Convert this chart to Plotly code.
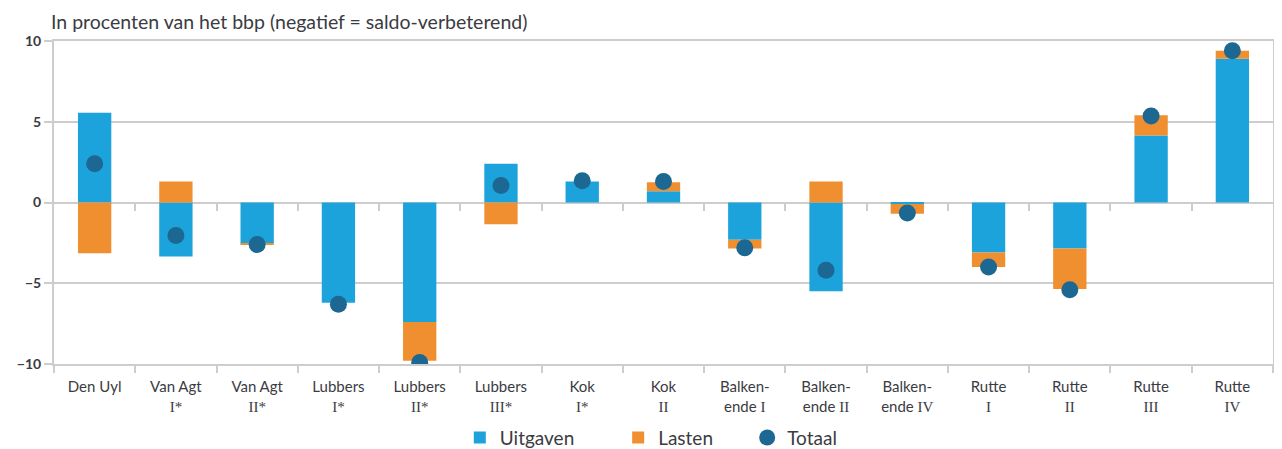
import re
import plotly.graph_objects as go

# ---- data ----
categories = ["Den Uyl", "Van Agt\nI*", "Van Agt\nII*", "Lubbers\nI*", "Lubbers\nII*",
              "Lubbers\nIII*", "Kok\nI*", "Kok\nII", "Balken-\nende I", "Balken-\nende II",
              "Balken-\nende IV", "Rutte\nI", "Rutte\nII", "Rutte\nIII", "Rutte\nIV"]
uitgaven = [5.55, -3.35, -2.55, -6.2, -7.4, 2.4, 1.3, 0.7, -2.3, -5.5, -0.1, -3.1, -2.85, 4.15, 8.9]
lasten = [-3.15, 1.3, -0.05, 0.0, -2.4, -1.35, 0.0, 0.55, -0.55, 1.3, -0.6, -0.9, -2.5, 1.25, 0.5]
totaal = [2.4, -2.05, -2.6, -6.3, -9.9, 1.05, 1.35, 1.3, -2.8, -4.2, -0.65, -4.0, -5.4, 5.35, 9.4]
y_ticks = [-10, -5, 0, 5, 10]
y_ticklabels = ["\u221210", "\u22125", "0", "5", "10"]
series_names = ["Uitgaven", "Lasten", "Totaal"]
title_text = "In procenten van het bbp (negatief = saldo-verbeterend)"

BLUE = "#1ca3db"
ORANGE = "#f08f2f"
DOT = "#1c6892"
GRID = "#cdcdcd"
TXT = "#3b3b42"
FONT = "Lato"

# the page body has an 8px margin; the figure is sized to fit the window
W, H = 1274, 441
NB = "\u00a0"


def fmt(label):
    lines = label.split("\n")
    out = []
    for ln in lines:
        ln = re.sub(r"\b([IV]+\*?)$",
                    lambda m: '<span style="font-family:Liberation Serif">' + m.group(1) + "</span>", ln)
        out.append(ln)
    return "<br>".join(out)


xs = list(range(len(categories)))
ticktext = [fmt(c) for c in categories]
legend_names = [series_names[0] + NB * 8, series_names[1] + NB * 6, series_names[2]]

fig = go.Figure()
fig.add_trace(go.Bar(x=xs, y=uitgaven, name=legend_names[0], marker_color=BLUE,
                     marker_line_width=0, hoverinfo="skip"))
fig.add_trace(go.Bar(x=xs, y=lasten, name=legend_names[1], marker_color=ORANGE,
                     marker_line_width=0, hoverinfo="skip"))
fig.add_trace(go.Scatter(x=xs, y=totaal, name=legend_names[2], mode="markers",
                         marker=dict(color=DOT, size=17), hoverinfo="skip"))
# helper traces for the tick marks on the bottom axis and on the zero line
fig.add_trace(go.Scatter(x=[None], y=[None], xaxis="x2", showlegend=False, hoverinfo="skip"))
fig.add_trace(go.Scatter(x=[None], y=[None], xaxis="x3", showlegend=False, hoverinfo="skip"))

n = len(categories)
fig.update_layout(
    width=W, height=H,
    margin=dict(l=46, r=9, t=33, b=85, autoexpand=False),
    paper_bgcolor="white", plot_bgcolor="white",
    barmode="relative", bargap=0.59,
    font=dict(family=FONT, color=TXT, size=15),
    title=dict(text=title_text, xref="container", yref="container",
               x=43 / W, xanchor="left", y=1 - 14 / H, yanchor="middle",
               font=dict(family=FONT, size=19.5, color=TXT)),
    xaxis=dict(range=[-0.5, n - 0.5], tickmode="array", tickvals=xs, ticktext=ticktext,
               showgrid=False, zeroline=False, showline=True, linecolor=GRID, linewidth=2,
               mirror=True, ticks="", ticklabelstandoff=8,
               tickfont=dict(size=15, color=TXT)),
    xaxis2=dict(overlaying="x", anchor="free", position=0.0, range=[-0.5, n - 0.5],
                tickmode="array", tickvals=[i - 0.5 for i in range(n + 1)],
                ticks="outside", ticklen=8, tickwidth=2, tickcolor=GRID,
                showticklabels=False, showgrid=False, zeroline=False, showline=False),
    xaxis3=dict(overlaying="x", anchor="free", position=0.5, range=[-0.5, n - 0.5],
                tickmode="array", tickvals=[i + 0.5 for i in range(n - 1)],
                ticks="outside", ticklen=7, tickwidth=2, tickcolor=GRID,
                showticklabels=False, showgrid=False, zeroline=False, showline=False),
    yaxis=dict(range=[-10, 10], tickmode="array", tickvals=y_ticks, ticktext=y_ticklabels,
               showgrid=True, gridcolor=GRID, gridwidth=2, zeroline=True, zerolinecolor=GRID,
               zerolinewidth=2, showline=True, linecolor=GRID, linewidth=2, mirror=True,
               ticks="outside", ticklen=8, tickwidth=2, tickcolor=GRID,
               tickfont=dict(size=14, color=TXT, weight="bold")),
    legend=dict(orientation="h", x=0.49, xanchor="center", y=-0.228, yanchor="middle",
                font=dict(size=19, color=TXT), itemwidth=30, traceorder="normal"),
    showlegend=True,
)

fig.write_html("out.html")
